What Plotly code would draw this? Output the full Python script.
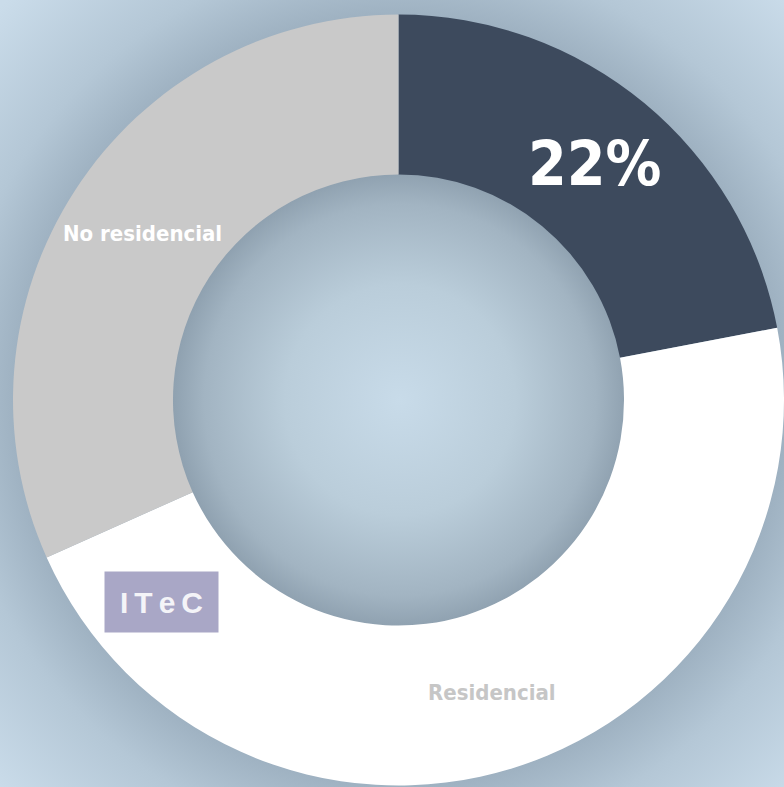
import base64
import math
import plotly.graph_objects as go

# ---- data ----
labels = ["Residencial nuevo", "Residencial", "No residencial"]
values = [22, 46.3, 31.7]
slice_text = ["22%", "Residencial", "No residencial"]
slice_colors = ["#3d4a5d", "#ffffff", "#c9c9c9"]
text_colors = ["#ffffff", "#c6c6c6", "#ffffff"]
text_sizes = [62, 22, 22]
logo_text = "I\u2009T\u2009e\u2009C"

W, H = 784, 787
CX, CY, R = 400, 400, 387
HOLE = 0.585

svg = f'''<svg xmlns="http://www.w3.org/2000/svg" width="{W}" height="{H}" viewBox="0 0 {W} {H}">
<defs>
<radialGradient id="o" gradientUnits="userSpaceOnUse" cx="{CX}" cy="{CY}" r="560">
<stop offset="0.68" stop-color="#9db0c0"/>
<stop offset="0.8" stop-color="#b4c7d6"/>
<stop offset="1" stop-color="#cadcea"/>
</radialGradient>
<radialGradient id="i" gradientUnits="userSpaceOnUse" cx="{CX}" cy="{CY}" r="{R*HOLE+4}">
<stop offset="0" stop-color="#c8dbe9"/>
<stop offset="0.5" stop-color="#bacdda"/>
<stop offset="0.85" stop-color="#a2b4c2"/>
<stop offset="1" stop-color="#8d9fae"/>
</radialGradient>
</defs>
<rect width="{W}" height="{H}" fill="url(#o)"/>
<circle cx="{CX}" cy="{CY}" r="{R*HOLE+4}" fill="url(#i)"/>
</svg>'''
src = "data:image/svg+xml;base64," + base64.b64encode(svg.encode()).decode()

NARROW = "Liberation Sans Narrow, Arial Narrow, DejaVu Sans Condensed, Roboto Condensed, Liberation Sans, sans-serif"

fig = go.Figure(go.Pie(
    labels=labels,
    values=values,
    textinfo="none",
    hole=HOLE,
    sort=False,
    direction="clockwise",
    rotation=0,
    marker=dict(colors=slice_colors, line=dict(width=0)),
    domain=dict(x=[(CX - R) / W, min(1.0, (CX + R) / W)],
                y=[(H - CY - R) / H, (H - CY + R) / H]),
    showlegend=False,
    hoverinfo="skip",
))

# slice labels placed at the middle of each ring segment (angles from the data)
total = sum(values)
r_mid = R * (1 + HOLE) / 2
start = 0.0
for v, t, c, s in zip(values, slice_text, text_colors, text_sizes):
    mid = math.radians((start + v / 2) / total * 360)
    start += v
    px = CX + r_mid * math.sin(mid)
    py = CY - r_mid * math.cos(mid)
    fig.add_annotation(
        x=px / W, y=1 - py / H, xref="paper", yref="paper",
        xanchor="center", yanchor="middle", showarrow=False, text=t,
        font=dict(family=NARROW, size=s, color=c, weight="bold"),
    )

fig.add_annotation(
    x=161.5 / W, y=1 - 602 / H, xref="paper", yref="paper",
    xanchor="center", yanchor="middle",
    text=logo_text, showarrow=False,
    font=dict(family="Liberation Sans, Arial, sans-serif", size=30, color="#f4f4f8", weight="bold"),
    bgcolor="#a9a7c6", width=113, height=60, align="center", valign="middle",
    borderpad=0,
)

fig.update_layout(
    width=W, height=H,
    margin=dict(l=0, r=0, t=0, b=0),
    paper_bgcolor="rgba(0,0,0,0)",
    plot_bgcolor="rgba(0,0,0,0)",
    images=[dict(source=src, xref="paper", yref="paper", x=0, y=1,
                 sizex=1, sizey=1, sizing="stretch", layer="below",
                 xanchor="left", yanchor="top")],
)

fig.write_html("out.html", config={"displayModeBar": False},
               post_script="document.body.style.margin='0';document.body.style.overflow='hidden';")
